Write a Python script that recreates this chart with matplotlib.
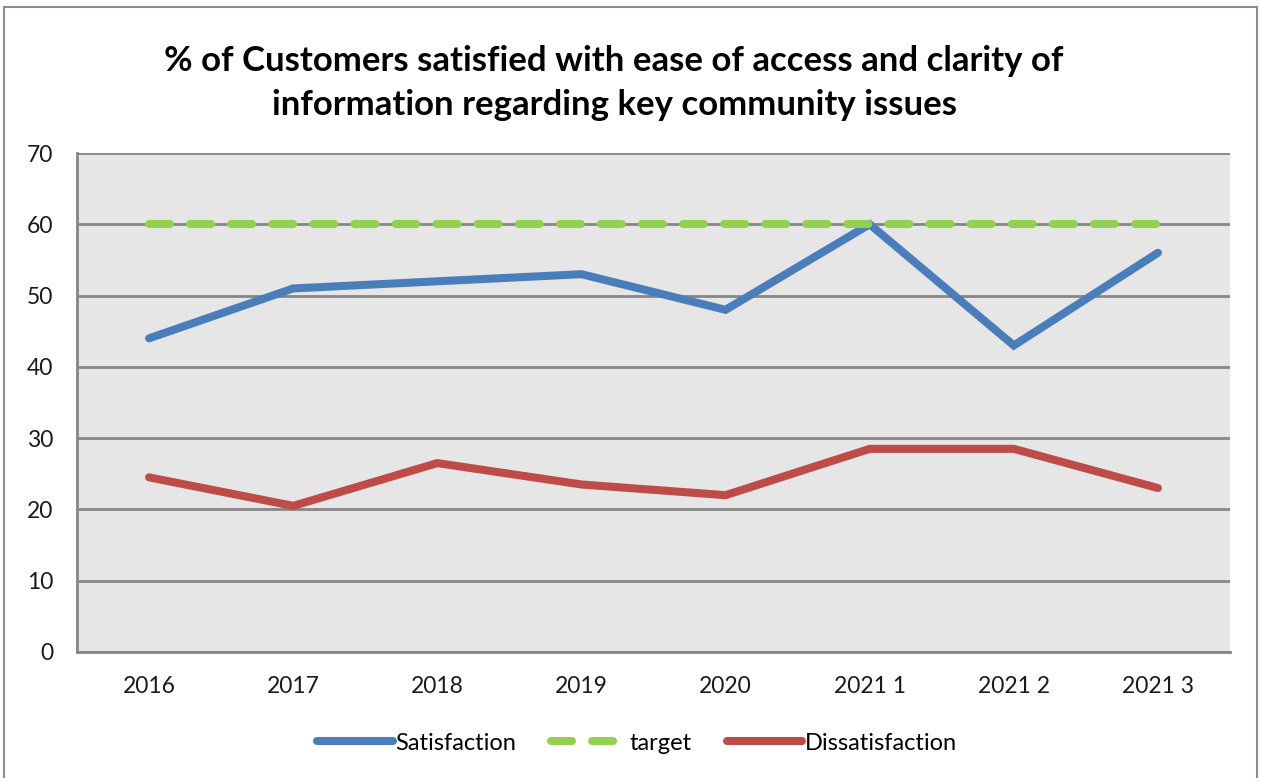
import matplotlib.pyplot as plt
import matplotlib.patches as mpatches

# data
categories = ["2016", "2017", "2018", "2019", "2020", "2021 1", "2021 2", "2021 3"]
satisfaction = [44, 51, 52, 53, 48, 60, 43, 56]
target = [60, 60, 60, 60, 60, 60, 60, 60]
dissatisfaction = [24.5, 20.5, 26.5, 23.5, 22, 28.5, 28.5, 23]

title = "% of Customers satisfied with ease of access and clarity of\ninformation regarding key community issues"

plt.rcParams['font.family'] = ['Lato', 'DejaVu Sans']

fig = plt.figure(figsize=(12.61, 7.78), dpi=100)
ax = fig.add_axes([77/1261, 1-652/778, (1230-77)/1261, (652-153)/778])

x = list(range(len(categories)))
lw = 5.8
ax.plot(x, satisfaction, color='#4A7EBB', lw=lw, solid_capstyle='round',
        solid_joinstyle='miter', label='Satisfaction', zorder=3)
ax.plot(x, target, color='#92D050', lw=lw, dash_capstyle='round',
        dashes=(2.6, 2.5), label='target', zorder=3)
ax.plot(x, dissatisfaction, color='#BE4B48', lw=lw, solid_capstyle='round',
        solid_joinstyle='miter', label='Dissatisfaction', zorder=3)

ax.set_xlim(-0.5, len(categories) - 0.5)
ax.set_ylim(0, 70)
ax.set_yticks(range(0, 71, 10))
ax.set_xticks(x)
ax.set_xticklabels(categories)
ax.set_facecolor('#E6E6E6')
ax.grid(axis='y', color='#868686', lw=2)
ax.set_axisbelow(True)
for s in ['top', 'right']:
    ax.spines[s].set_visible(False)
for s in ['left', 'bottom']:
    ax.spines[s].set_color('#868686')
    ax.spines[s].set_linewidth(2)
ax.tick_params(length=0, labelsize=16.5, colors='#1a1a1a')
ax.tick_params(axis='y', pad=17)
ax.tick_params(axis='x', pad=17)

fig.text(0.487, 1-83/778, title, ha='center', va='center', fontsize=25,
         fontweight='bold', linespacing=1.45, color='black')

leg = fig.legend(loc='center', bbox_to_anchor=(637/1261, 1-743/778), ncol=3,
                 frameon=False, fontsize=17, handlelength=3.2,
                 handletextpad=0.1, columnspacing=1.5)

# outer chart border
fig.patches.append(mpatches.Rectangle((4/1261, -0.02), 1-8/1261, 1.02-7/778,
                                      transform=fig.transFigure, fill=False,
                                      edgecolor='#8C8C8C', lw=1.5))

fig.savefig("out.png", dpi=100)
